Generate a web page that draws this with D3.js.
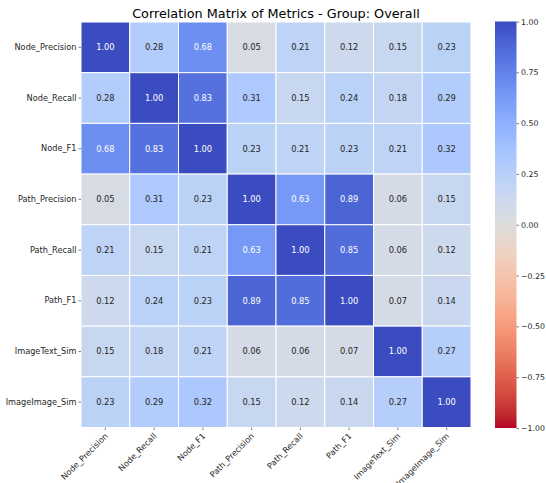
<!DOCTYPE html>
<html>
<head>
<meta charset="utf-8">
<script src="https://cdn.jsdelivr.net/npm/d3@7/dist/d3.min.js"></script>
<style>
  html, body { margin: 0; padding: 0; background: #fff; }
  svg { display: block; font-family: "DejaVu Sans", sans-serif; }
</style>
</head>
<body>
<svg id="chart" width="546" height="483"></svg>
<script>
// Metric names (rows and columns share the same order)
const metrics = ["Node_Precision", "Node_Recall", "Node_F1", "Path_Precision",
                 "Path_Recall", "Path_F1", "ImageText_Sim", "ImageImage_Sim"];

// Pairwise correlation coefficients, one row per metric
const corrNodePrecision = [1.00, 0.28, 0.68, 0.05, 0.21, 0.12, 0.15, 0.23];
const corrNodeRecall    = [0.28, 1.00, 0.83, 0.31, 0.15, 0.24, 0.18, 0.29];
const corrNodeF1        = [0.68, 0.83, 1.00, 0.23, 0.21, 0.23, 0.21, 0.32];
const corrPathPrecision = [0.05, 0.31, 0.23, 1.00, 0.63, 0.89, 0.06, 0.15];
const corrPathRecall    = [0.21, 0.15, 0.21, 0.63, 1.00, 0.85, 0.06, 0.12];
const corrPathF1        = [0.12, 0.24, 0.23, 0.89, 0.85, 1.00, 0.07, 0.14];
const corrImageTextSim  = [0.15, 0.18, 0.21, 0.06, 0.06, 0.07, 1.00, 0.27];
const corrImageImageSim = [0.23, 0.29, 0.32, 0.15, 0.12, 0.14, 0.27, 1.00];

const colorbarTicks = [-1.00, -0.75, -0.50, -0.25, 0.00, 0.25, 0.50, 0.75, 1.00];

const titleText = "Correlation Matrix of Metrics - Group: Overall";

const rows = [corrNodePrecision, corrNodeRecall, corrNodeF1, corrPathPrecision,
              corrPathRecall, corrPathF1, corrImageTextSim, corrImageImageSim];

const cells = [];
rows.forEach((row, i) => row.forEach((v, j) => cells.push({ r: metrics[i], c: metrics[j], v })));

// Layout
const grid = { left: 81, top: 22, width: 390, height: 405.5 };
const cbar = { left: 495, top: 21.5, width: 21.5, height: 406.5 };

// Diverging "coolwarm" palette sampled every 1/32 (blue -> grey -> red)
const coolwarmStops = [
  [0.2298, 0.2987, 0.7537], [0.2662, 0.3531, 0.8015], [0.3039, 0.4065, 0.8450],
  [0.3428, 0.4588, 0.8837], [0.3830, 0.5094, 0.9174], [0.4244, 0.5581, 0.9456],
  [0.4667, 0.6046, 0.9682], [0.5096, 0.6483, 0.9848], [0.5530, 0.6889, 0.9954],
  [0.5963, 0.7261, 0.9998], [0.6392, 0.7596, 0.9982], [0.6813, 0.7890, 0.9904],
  [0.7222, 0.8140, 0.9766], [0.7615, 0.8343, 0.9569], [0.7987, 0.8498, 0.9317],
  [0.8335, 0.8602, 0.9011], [0.8654, 0.8654, 0.8654], [0.8978, 0.8489, 0.8209],
  [0.9241, 0.8274, 0.7745], [0.9445, 0.8009, 0.7267], [0.9589, 0.7698, 0.6780],
  [0.9673, 0.7341, 0.6288], [0.9700, 0.6943, 0.5794], [0.9668, 0.6504, 0.5303],
  [0.9580, 0.6028, 0.4818], [0.9437, 0.5518, 0.4342], [0.9239, 0.4973, 0.3880],
  [0.8990, 0.4396, 0.3432], [0.8692, 0.3783, 0.3003], [0.8346, 0.3129, 0.2593],
  [0.7956, 0.2413, 0.2205], [0.7525, 0.1572, 0.1841], [0.7057, 0.0156, 0.1502]
].map(([r, g, b]) => d3.rgb(r * 255, g * 255, b * 255).formatHex());

const coolwarm = d3.scaleLinear()
  .domain(d3.range(coolwarmStops.length).map(i => i / (coolwarmStops.length - 1)))
  .range(coolwarmStops)
  .interpolate(d3.interpolateRgb);
// Reversed map: +1 is blue, -1 is red
const color = v => coolwarm((1 - v) / 2);

const svg = d3.select("#chart");

const x = d3.scaleBand().domain(metrics).range([grid.left, grid.left + grid.width]);
const y = d3.scaleBand().domain(metrics).range([grid.top, grid.top + grid.height]);

// Cells
svg.append("g")
  .selectAll("rect")
  .data(cells)
  .join("rect")
  .attr("x", d => x(d.c))
  .attr("y", d => y(d.r))
  .attr("width", x.bandwidth())
  .attr("height", y.bandwidth())
  .attr("fill", d => color(d.v))
  .attr("stroke", "#fff")
  .attr("stroke-width", 1);

// Annotations: light text on dark cells
function luminance(c) {
  const rgb = d3.rgb(c);
  const lin = u => { u /= 255; return u <= 0.03928 ? u / 12.92 : Math.pow((u + 0.055) / 1.055, 2.4); };
  return 0.2126 * lin(rgb.r) + 0.7152 * lin(rgb.g) + 0.0722 * lin(rgb.b);
}
svg.append("g")
  .selectAll("text")
  .data(cells)
  .join("text")
  .attr("x", d => x(d.c) + x.bandwidth() / 2)
  .attr("y", d => y(d.r) + y.bandwidth() / 2)
  .attr("text-anchor", "middle")
  .attr("dominant-baseline", "central")
  .attr("font-size", 8.3)
  .attr("fill", d => luminance(color(d.v)) < 0.408 ? "#ffffff" : "#262626")
  .text(d => d.v.toFixed(2));

// Y axis
const yAxis = svg.append("g")
  .attr("transform", `translate(${grid.left},0)`)
  .call(d3.axisLeft(y).tickSize(2.5).tickPadding(2));
yAxis.select(".domain").remove();
yAxis.selectAll("line").attr("stroke", "#262626").attr("stroke-width", 0.6);
yAxis.selectAll("text").attr("font-size", 8.2).attr("fill", "#262626")
  .attr("font-family", "DejaVu Sans, sans-serif");

// X axis with rotated labels
const xAxis = svg.append("g")
  .attr("transform", `translate(0,${grid.top + grid.height})`)
  .call(d3.axisBottom(x).tickSize(2.5).tickPadding(2));
xAxis.select(".domain").remove();
xAxis.selectAll("line").attr("stroke", "#262626").attr("stroke-width", 0.6);
xAxis.selectAll("text")
  .attr("font-size", 8.2).attr("fill", "#262626")
  .attr("font-family", "DejaVu Sans, sans-serif")
  .attr("text-anchor", "end")
  .attr("dy", null)
  .attr("y", 0)
  .attr("transform", "translate(3,9) rotate(-45)");

// Title
svg.append("text")
  .attr("x", grid.left + grid.width / 2)
  .attr("y", 17.5)
  .attr("text-anchor", "middle")
  .attr("font-size", 12.8)
  .attr("fill", "#000")
  .text(titleText);

// Colorbar
const defs = svg.append("defs");
const grad = defs.append("linearGradient")
  .attr("id", "cbarGrad").attr("x1", 0).attr("y1", 0).attr("x2", 0).attr("y2", 1);
d3.range(0, 1.0001, 1 / 64).forEach(t => {
  grad.append("stop").attr("offset", t).attr("stop-color", color(1 - 2 * t));
});
svg.append("rect")
  .attr("x", cbar.left).attr("y", cbar.top)
  .attr("width", cbar.width).attr("height", cbar.height)
  .attr("fill", "url(#cbarGrad)");

const cy = d3.scaleLinear().domain([-1, 1]).range([cbar.top + cbar.height, cbar.top]);
const cAxis = svg.append("g")
  .attr("transform", `translate(${cbar.left + cbar.width},0)`)
  .call(d3.axisRight(cy).tickValues(colorbarTicks).tickSize(2.5).tickPadding(2)
    .tickFormat(d => d3.format(".2f")(d).replace("-", "\u2212")));
cAxis.select(".domain").remove();
cAxis.selectAll("line").attr("stroke", "#262626").attr("stroke-width", 0.6);
cAxis.selectAll("text").attr("font-size", 7.8).attr("fill", "#262626")
  .attr("font-family", "DejaVu Sans, sans-serif");
</script>
</body>
</html>
